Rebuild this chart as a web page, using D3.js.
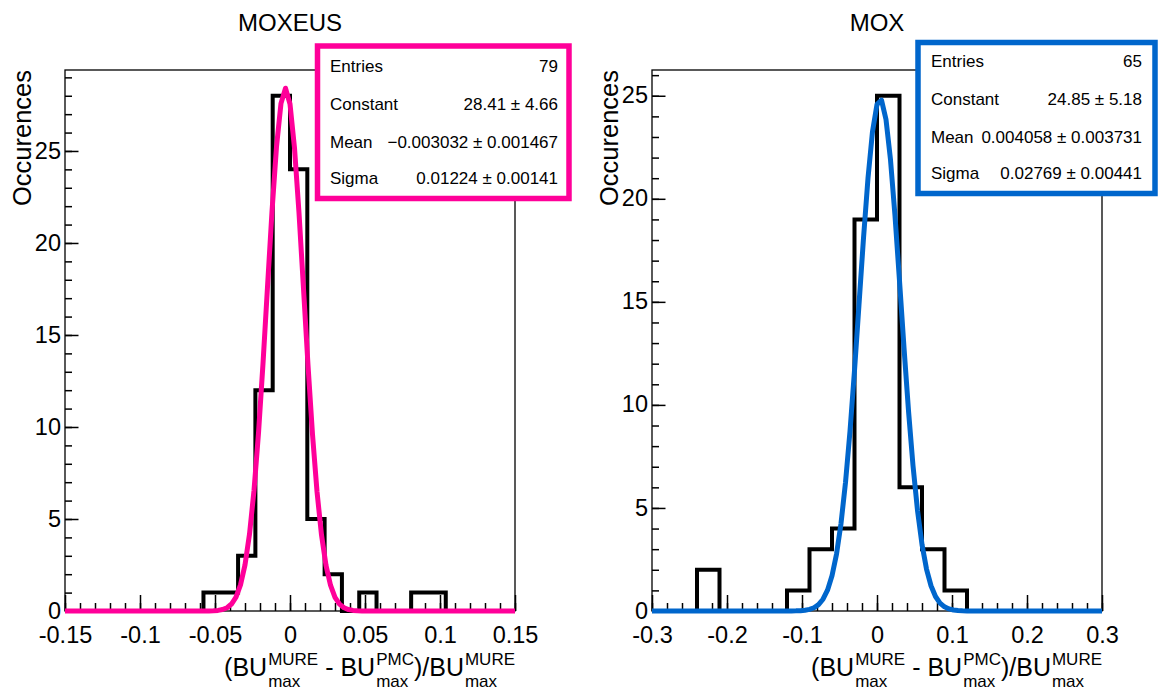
<!DOCTYPE html>
<html><head><meta charset="utf-8">
<script src="https://cdn.jsdelivr.net/npm/d3@7"></script>
<style>
body{margin:0;background:#fff}
svg{display:block}
text{font-family:"Liberation Sans",Arial,Helvetica,sans-serif;fill:#000}
</style>
</head><body>
<svg id="c" width="1159" height="691"></svg>
<script>
// ---------------- DATA ----------------
const leftTitle = "MOXEUS";
const leftRange = [-0.15, 0.15];
const leftCounts = [0,0,0,0,0,0,0,0,1,1,3,12,28,24,5,2,0,1,0,0,1,1,0,0,0,0];
const leftXTicks = [-0.15,-0.1,-0.05,0,0.05,0.1,0.15];
const leftYTicks = [0,5,10,15,20,25];
const leftFit = [28.41, -0.003032, 0.01224]; // constant, mean, sigma
const leftStatNames = ["Entries","Constant","Mean","Sigma"];
const leftStatValues = ["79","28.41 \u00b1 4.66","\u22120.003032 \u00b1 0.001467","0.01224 \u00b1 0.00141"];

const rightTitle = "MOX";
const rightRange = [-0.3, 0.3];
const rightCounts = [0,0,2,0,0,0,1,3,4,19,25,6,3,1,0,0,0,0,0,0];
const rightXTicks = [-0.3,-0.2,-0.1,0,0.1,0.2,0.3];
const rightYTicks = [0,5,10,15,20,25];
const rightFit = [24.85, 0.004058, 0.02769];
const rightStatNames = ["Entries","Constant","Mean","Sigma"];
const rightStatValues = ["65","24.85 \u00b1 5.18","0.004058 \u00b1 0.003731","0.02769 \u00b1 0.00441"];

const yTitle = "Occurences";

// ---------------- LAYOUT ----------------
const panels = [
  {title:leftTitle, range:leftRange, counts:leftCounts, xticks:leftXTicks, yticks:leftYTicks,
   fit:leftFit, names:leftStatNames, values:leftStatValues, color:"#ff0099",
   fx0:65, fx1:515, minorStep:0.01, yTitleX:31,
   box:{x:317.5,y:46,w:251.5,h:152.5}, rows:[71.7,110,147.7,184], tl:330, tr:558},
  {title:rightTitle, range:rightRange, counts:rightCounts, xticks:rightXTicks, yticks:rightYTicks,
   fit:rightFit, names:rightStatNames, values:rightStatValues, color:"#0066cc",
   fx0:652, fx1:1102, minorStep:0.02, yTitleX:618,
   box:{x:918,y:42.5,w:237,h:151}, rows:[66.7,105,142.7,179.3], tl:931, tr:1142}
];
const fy0 = 70, fy1 = 611;

const svg = d3.select("#c");
const fmt = d => d === 0 ? "0" : String(d);

panels.forEach(p => {
  const g = svg.append("g");
  const ymax = 1.05 * d3.max(p.counts);
  const x = d3.scaleLinear().domain(p.range).range([p.fx0, p.fx1]);
  const y = d3.scaleLinear().domain([0, ymax]).range([fy1, fy0]);
  const n = p.counts.length;
  const bw = (p.range[1]-p.range[0]) / n;

  // frame
  g.append("rect").attr("x", p.fx0).attr("y", fy0).attr("width", p.fx1-p.fx0).attr("height", fy1-fy0)
    .attr("fill","none").attr("stroke","#000").attr("stroke-width",1.3);

  // x minor ticks
  const nMinor = Math.round((p.range[1]-p.range[0])/p.minorStep);
  const xMinor = d3.range(0, nMinor+1).map(i => +(p.range[0] + i*p.minorStep).toFixed(4));
  const xAxMinor = g.append("g").attr("transform", `translate(0,${fy1})`)
    .call(d3.axisBottom(x).tickValues(xMinor).tickSize(-8).tickFormat(""));
  xAxMinor.select(".domain").remove();
  const xAx = g.append("g").attr("transform", `translate(0,${fy1})`)
    .call(d3.axisBottom(x).tickValues(p.xticks).tickSize(-16).tickPadding(15).tickFormat(fmt));
  xAx.select(".domain").remove();
  xAx.selectAll("text").attr("font-size", 23.5).attr("font-family", null);
  [xAxMinor, xAx].forEach(a => a.selectAll("line").attr("stroke-width",1.5));

  // y minor ticks
  const yMinor = d3.range(0, Math.floor(ymax)+1);
  const yAxMinor = g.append("g").attr("transform", `translate(${p.fx0},0)`)
    .call(d3.axisLeft(y).tickValues(yMinor).tickSize(-7).tickFormat(""));
  yAxMinor.select(".domain").remove();
  const yAx = g.append("g").attr("transform", `translate(${p.fx0},0)`)
    .call(d3.axisLeft(y).tickValues(p.yticks).tickSize(-13.5).tickPadding(4).tickFormat(fmt));
  yAx.select(".domain").remove();
  yAx.selectAll("text").attr("font-size", 23.5).attr("font-family", null).attr("dy", "0.3em");
  [yAxMinor, yAx].forEach(a => a.selectAll("line").attr("stroke-width",1.5));
  g.selectAll(".tick text").style("font-family", '"Liberation Sans",Arial,sans-serif');

  // histogram outline
  const pts = [[p.range[0], 0]];
  p.counts.forEach((c, i) => {
    pts.push([p.range[0] + i*bw, c]);
    pts.push([p.range[0] + (i+1)*bw, c]);
  });
  pts.push([p.range[1], 0]);
  g.append("path").attr("d", d3.line().x(d => x(d[0])).y(d => y(d[1]))(pts))
    .attr("fill","none").attr("stroke","#000").attr("stroke-width",4).attr("stroke-linejoin","miter");

  // gaussian fit curve from the displayed fit parameters (100 segments, as ROOT draws it)
  const [C, mu, sig] = p.fit;
  const fpts = d3.range(0, 101).map(i => {
    const xv = p.range[0] + i*(p.range[1]-p.range[0])/100;
    return [xv, C*Math.exp(-0.5*((xv-mu)/sig)**2)];
  });
  g.append("path").attr("d", d3.line().x(d => x(d[0])).y(d => y(d[1]))(fpts))
    .attr("fill","none").attr("stroke",p.color).attr("stroke-width",5).attr("stroke-linejoin","round");

  // title
  g.append("text").attr("x", (p.fx0+p.fx1)/2).attr("y", 31).attr("text-anchor","middle")
    .attr("font-size", 24).text(p.title);

  // y title
  g.append("text").attr("transform", `translate(${p.yTitleX},${fy0}) rotate(-90)`)
    .attr("text-anchor","end").attr("font-size", 25.5).text(yTitle);

  // x title with super/subscripts
  const tg = g.append("g");
  const pieces = [{t:"(BU"},{sup:"MURE",sub:"max"},{t:" - BU"},{sup:"PMC",sub:"max"},{t:")/BU"},{sup:"MURE",sub:"max"}];
  const base = 676;
  let cx = 0;
  pieces.forEach(pc => {
    if (pc.t) {
      const t = tg.append("text").attr("x", cx).attr("y", base).attr("font-size", 25)
        .style("white-space","pre").attr("xml:space","preserve").text(pc.t);
      cx += t.node().getComputedTextLength();
    } else {
      const a = tg.append("text").attr("x", cx+1).attr("y", base-11).attr("font-size", 17).text(pc.sup);
      const b = tg.append("text").attr("x", cx+1).attr("y", base+11).attr("font-size", 17).text(pc.sub);
      cx += 1 + Math.max(a.node().getComputedTextLength(), b.node().getComputedTextLength());
    }
  });
  tg.attr("transform", `translate(${p.fx1 - cx},0)`);

  // stats box
  const sb = g.append("g");
  sb.append("rect").attr("x", p.box.x).attr("y", p.box.y).attr("width", p.box.w).attr("height", p.box.h)
    .attr("fill","#fff").attr("stroke", p.color).attr("stroke-width", 5.5);
  p.names.forEach((nm, i) => {
    sb.append("text").attr("x", p.tl).attr("y", p.rows[i]).attr("font-size", 17).text(nm);
    sb.append("text").attr("x", p.tr).attr("y", p.rows[i]).attr("font-size", 17)
      .attr("text-anchor","end").text(p.values[i]);
  });
});
</script>
</body></html>
